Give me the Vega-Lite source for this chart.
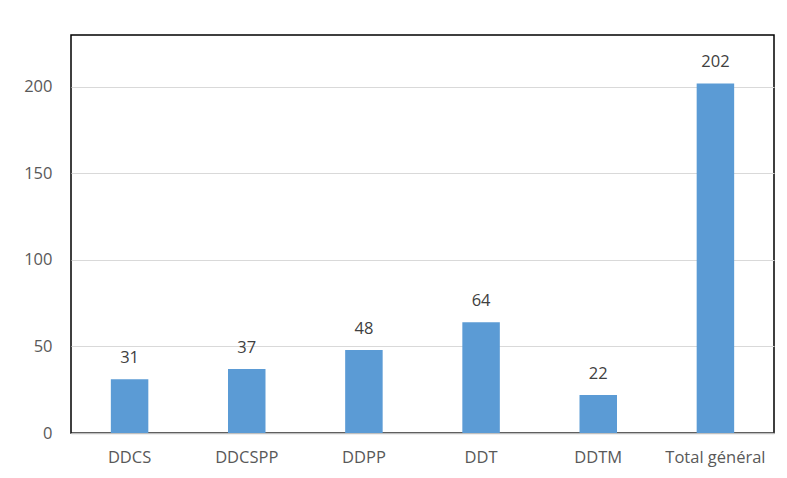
{
  "$schema": "https://vega.github.io/schema/vega-lite/v6.json",
  "width": 703,
  "height": 398,
  "autosize": {"type": "none"},
  "padding": {"left": 71, "top": 35, "right": 13, "bottom": 45},
  "background": "white",
  "config": {
    "view": {"stroke": "#000000", "strokeWidth": 1.5},
    "font": "Open Sans"
  },
  "data": {
    "values": [
      {"cat": "DDCS", "n": 31},
      {"cat": "DDCSPP", "n": 37},
      {"cat": "DDPP", "n": 48},
      {"cat": "DDT", "n": 64},
      {"cat": "DDTM", "n": 22},
      {"cat": "Total général", "n": 202}
    ]
  },
  "encoding": {
    "x": {
      "field": "cat", "type": "nominal", "sort": null,
      "scale": {"paddingInner": 0.68, "paddingOuter": 0.34},
      "axis": {"title": null, "labelAngle": 0, "ticks": false, "labelPadding": 16, "labelFontSize": 16.5, "labelColor": "#595959", "domainColor": "#bfbfbf", "domainWidth": 1.5, "grid": false}
    },
    "y": {
      "field": "n", "type": "quantitative",
      "scale": {"domain": [0, 230], "nice": false},
      "axis": {"title": null, "values": [0, 50, 100, 150, 200], "ticks": false, "domain": false, "labelPadding": 19, "labelFontSize": 16.5, "labelColor": "#595959", "gridColor": "#d9d9d9", "gridWidth": 1}
    }
  },
  "layer": [
    {"mark": {"type": "bar", "color": "#5b9bd5"}},
    {"mark": {"type": "text", "dy": -21, "fontSize": 16.5, "color": "#404040"}, "encoding": {"text": {"field": "n", "type": "quantitative"}}}
  ]
}
